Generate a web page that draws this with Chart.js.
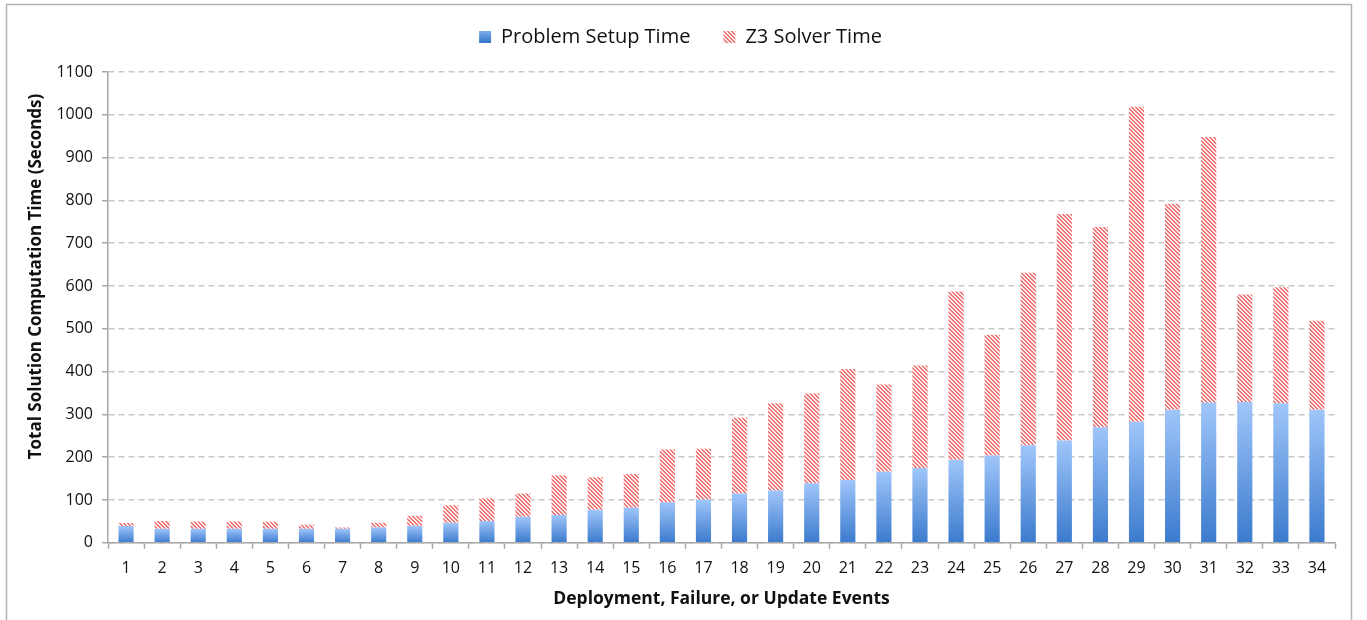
<!DOCTYPE html>
<html>
<head>
<meta charset="utf-8">
<script src="https://cdn.jsdelivr.net/npm/chart.js@4.4.1/dist/chart.umd.min.js"></script>
<style>
  html, body { margin: 0; padding: 0; background: #ffffff; }
  #wrap { position: relative; width: 1367px; height: 620px; }
</style>
</head>
<body>
<div id="wrap"><canvas id="c" width="1367" height="620"></canvas></div>
<script>
const categories = ['1','2','3','4','5','6','7','8','9','10','11','12','13','14','15','16','17','18','19','20','21','22','23','24','25','26','27','28','29','30','31','32','33','34'];
const setupTime = [39, 33, 33, 33, 33, 33, 33, 36, 40, 47, 51, 61, 65, 77, 82, 95, 101, 115, 122, 139, 147, 166, 175, 194, 204, 228, 239, 270, 283, 311, 327, 329, 326, 311];
const solverTime = [7, 18, 17, 17, 16, 9, 3, 11, 23, 41, 53, 54, 93, 76, 79, 123, 119, 177, 204, 210, 259, 204, 239, 393, 282, 403, 529, 468, 736, 481, 621, 251, 271, 208];
const seriesNames = ['Problem Setup Time', 'Z3 Solver Time'];
const yTicks = [0, 100, 200, 300, 400, 500, 600, 700, 800, 900, 1000, 1100];
const yTitle = 'Total Solution Computation Time (Seconds)';
const xTitle = 'Deployment, Failure, or Update Events';

const FONT = '"Open Sans", "DejaVu Sans", sans-serif';

// hatch pattern for solver series
function makeHatch() {
  const s = 4;
  const c = document.createElement('canvas');
  c.width = s; c.height = s;
  const g = c.getContext('2d');
  g.fillStyle = '#fff0f0';
  g.fillRect(0, 0, s, s);
  g.fillStyle = '#f27474';
  for (let i = 0; i < s; i++) {
    g.fillRect(i, i, 1, 1);
    g.fillRect((i + 1) % s, i, 1, 1);
  }
  return g.createPattern(c, 'repeat');
}
const hatch = makeHatch();

function blueGradient(ctx) {
  const chart = ctx.chart;
  const ys = chart.scales && chart.scales.y;
  if (!chart.chartArea || !ys || !ctx.parsed) return '#6a9de0';
  const top = ys.getPixelForValue(ctx.parsed.y);
  const bot = ys.getPixelForValue(0);
  if (!isFinite(top) || !isFinite(bot) || top === bot) return '#6a9de0';
  const g = chart.ctx.createLinearGradient(0, top, 0, bot);
  g.addColorStop(0, '#a0c6fa');
  g.addColorStop(1, '#3b7acd');
  return g;
}

const framePlugin = {
  id: 'frame',
  beforeDraw(chart) {
    const c = chart.ctx;
    c.save();
    c.strokeStyle = '#b4b4b4';
    c.lineWidth = 1.5;
    c.beginPath();
    c.moveTo(6.5, 640);
    c.lineTo(6.5, 4.5);
    c.lineTo(1351.5, 4.5);
    c.lineTo(1351.5, 640);
    c.stroke();
    c.restore();
  }
};

// legend occupies fixed band at top; text shifted up a little
const legendBand = {
  id: 'legendBand',
  beforeLayout(chart) {
    const lg = chart.legend;
    if (lg && !lg._patched) {
      const orig = lg.fit;
      lg.fit = function () { orig.call(this); this.height = 72; };
      lg._patched = true;
    }
  },
  afterLayout(chart) {
    if (chart.legend) { chart.legend.top = -6; }
  }
};

new Chart(document.getElementById('c'), {
  type: 'bar',
  data: {
    labels: categories,
    datasets: [
      {
        label: seriesNames[0],
        data: setupTime,
        backgroundColor: blueGradient,
        borderWidth: 0,
        barPercentage: 0.42,
        categoryPercentage: 1.0
      },
      {
        label: seriesNames[1],
        data: solverTime,
        backgroundColor: hatch,
        borderWidth: 0,
        barPercentage: 0.42,
        categoryPercentage: 1.0
      }
    ]
  },
  options: {
    responsive: false,
    animation: false,
    devicePixelRatio: 1,
    layout: { padding: { left: 26, right: 32, top: 0, bottom: 10 } },
    plugins: {
      legend: {
        position: 'top',
        labels: {
          font: { family: FONT, size: 20 },
          color: '#111',
          boxWidth: 12,
          boxHeight: 12,
          padding: 33,
          generateLabels(chart) {
            return chart.data.datasets.map((ds, i) => ({
              text: ds.label,
              fillStyle: i === 0 ? (function(){
                const g = chart.ctx.createLinearGradient(0, 28, 0, 42);
                g.addColorStop(0, '#8fb8f2'); g.addColorStop(1, '#3b7acd'); return g; })() : hatch,
              strokeStyle: 'rgba(0,0,0,0)',
              lineWidth: 0,
              hidden: !chart.isDatasetVisible(i),
              datasetIndex: i,
              fontColor: '#111'
            }));
          }
        }
      },
      tooltip: { enabled: false }
    },
    scales: {
      x: {
        stacked: true,
        grid: {
          display: true,
          offset: true,
          drawOnChartArea: false,
          drawTicks: true,
          tickLength: 6,
          tickColor: '#a8a8a8',
          tickWidth: 1.5
        },
        border: { display: true, color: '#a8a8a8', width: 1.5 },
        ticks: { font: { family: FONT, size: 16 }, color: '#111', padding: 10, maxRotation: 0, autoSkip: false },
        title: { display: true, text: xTitle, font: { family: FONT, size: 17.5, weight: 'bold' }, color: '#111', padding: { top: 1, bottom: 0 } }
      },
      y: {
        stacked: true,
        min: 0,
        max: 1100,
        afterFit(scale) { scale.width = 82; },
        afterBuildTicks(scale) { scale.ticks = yTicks.map(v => ({ value: v })); },
        grid: {
          color: '#c8c8c8',
          lineWidth: 1.5,
          drawTicks: true,
          tickLength: 6,
          tickColor: '#a8a8a8',
          tickWidth: 1.5,
          tickBorderDash: []
        },
        border: { display: true, color: '#a8a8a8', width: 1.5, dash: [6, 4] },
        ticks: { font: { family: FONT, size: 16 }, color: '#111', padding: 9, callback: (v) => String(v) },
        title: { display: true, text: '              ' + yTitle, font: { family: FONT, size: 17, weight: 'bold' }, color: '#111', padding: { top: 0, bottom: 4 } }
      }
    }
  },
  plugins: [framePlugin, legendBand]
});
</script>
</body>
</html>
